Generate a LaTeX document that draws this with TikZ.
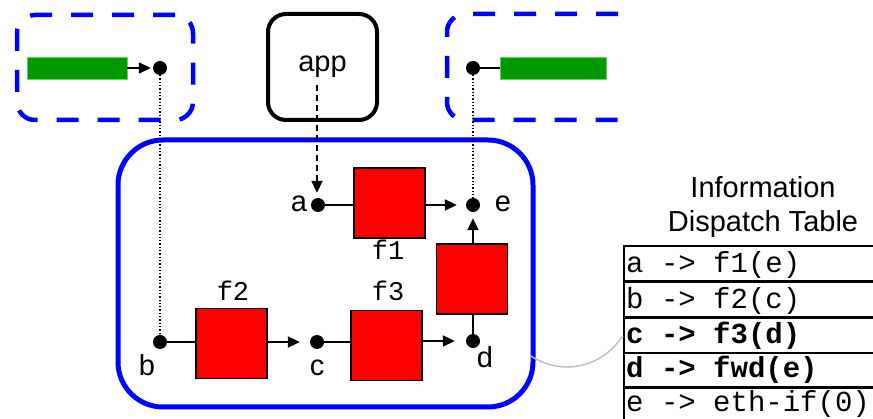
\documentclass[tikz,border=0pt]{standalone}
\usepackage{fontspec}
\setmainfont{Liberation Sans}
\setmonofont{Liberation Mono}
\usetikzlibrary{arrows.meta}
\tikzset{
  dotnode/.style={circle,fill=black,inner sep=0pt,minimum size=14pt},
  fbox/.style={draw=black,fill=red,line width=1.8pt,minimum width=71pt,minimum height=70pt,inner sep=0pt},
  gbar/.style={draw=green!70!black!60,fill=green!60!black,line width=0.8pt,minimum width=100pt,minimum height=22pt,inner sep=0pt},
  conn/.style={line width=2pt},
  arr/.style={conn,-{Triangle[length=12pt,width=11pt]}},
  dbox/.style={draw=blue,line width=4.5pt,dash pattern=on 22pt off 19pt,rounded corners=18pt},
  lab/.style={font=\fontsize{29}{30}\selectfont,inner sep=0pt,anchor=base},
  flab/.style={font=\fontsize{27}{28}\selectfont\ttfamily,inner sep=0pt,anchor=base},
  rowbox/.style={draw=black,line width=1.8pt,minimum width=270pt,minimum height=35.5pt,inner sep=0pt,anchor=north west},
  rowtxt/.style={font=\fontsize{29}{30}\selectfont\ttfamily,inner sep=0pt,anchor=base west},
}
\begin{document}
\begin{tikzpicture}[x=1pt,y=-1pt]
\useasboundingbox (0,0) rectangle (873,419);
% left dashed box
\node[dbox,minimum width=176pt,minimum height=105pt,inner sep=0pt] (lbox) at (105,67.5) {};
% right dashed (open) box
\draw[dbox] (618,14) -- (447,14) -- (447,120) -- (618,120);
% app box
\node[draw=black,line width=4pt,rounded corners=18pt,minimum width=109pt,minimum height=106pt,inner sep=0pt,font=\fontsize{29}{30}\selectfont] (app) at (322.5,67) {app};
% big blue box
\node[draw=blue,line width=5pt,rounded corners=45pt,minimum width=415pt,minimum height=267pt,inner sep=0pt] (big) at (325.5,273.5) {};
% green bars and top dots
\node[gbar] (gl) at (77,68) {};
\node[dotnode] (L) at (160,68) {};
\node[gbar,minimum width=106pt] (gr) at (553,68) {};
\node[dotnode] (R) at (473,68) {};
% inner dots
\node[dotnode] (a) at (318,205) {};
\node[dotnode] (e) at (473,205) {};
\node[dotnode] (b) at (160,342) {};
\node[dotnode] (c) at (317,342) {};
\node[dotnode] (d) at (473,341) {};
% function boxes
\node[fbox] (f1) at (389.5,203) {};
\node[fbox] (f4) at (472,279) {};
\node[fbox] (f2) at (231.5,343.5) {};
\node[fbox] (f3) at (386.5,345.5) {};
% labels
\node[lab] (la) at (299,212) {a};
\node[lab] (le) at (503,212) {e};
\node[lab] (lb) at (147,376) {b};
\node[lab] (lc) at (317,376) {c};
\node[lab] (ld) at (485,368) {d};
\node[flab] (lf1) at (388,260) {f1};
\node[flab] (lf2) at (233,301) {f2};
\node[flab] (lf3) at (388,301) {f3};
% connectors
\draw[arr,shorten >=2pt] (gl) -- (L);
\draw[conn] (R) -- (gr);
\draw[line width=1.3pt,dotted] (L) -- (b);
\draw[line width=1.3pt,dotted] (R) -- (e);
\coordinate (appout) at (317,85);
\draw[arr,dash pattern=on 6pt off 4pt,shorten >=5pt] (appout) -- (appout |- a.north);
\draw[conn] (a) -- (a -| f1.west);
\draw[arr,shorten >=9pt] (f1.east |- e) -- (e);
\draw[conn] (b) -- (b -| f2.west);
\draw[arr,shorten >=10pt] (f2.east |- c) -- (c);
\draw[conn] (c) -- (c -| f3.west);
\draw[arr,shorten >=11pt] (f3.east |- d) -- (d);
\draw[conn] (d) -- (d |- f4.south);
\draw[arr,shorten >=6pt] (e |- f4.north) -- (e);
% table
\node[lab] (t1) at (763,198) {Information};
\node[lab] (t2) at (763,232) {Dispatch Table};
\node[rowbox] (r1) at (623,245) {};
\node[rowbox] (r2) at (623,281) {};
\node[rowbox] (r3) at (623,317) {};
\node[rowbox] (r4) at (623,352) {};
\node[rowbox] (r5) at (623,386) {};
\node[rowtxt] (x1) at (626,273) {a -> f1(e)};
\node[rowtxt] (x2) at (626,309) {b -> f2(c)};
\node[rowtxt] (x3) at (626,344) {\bfseries c -> f3(d)};
\node[rowtxt] (x4) at (626,378) {\bfseries d -> fwd(e)};
\node[rowtxt] (x5) at (626,412) {e -> eth-if(0)};
% gray curve
\coordinate (gs) at (531,356);
\draw[line width=1.5pt,color=black!25] (gs) .. controls (560,375) and (600,370) .. (r3.west);
\end{tikzpicture}
\end{document}
